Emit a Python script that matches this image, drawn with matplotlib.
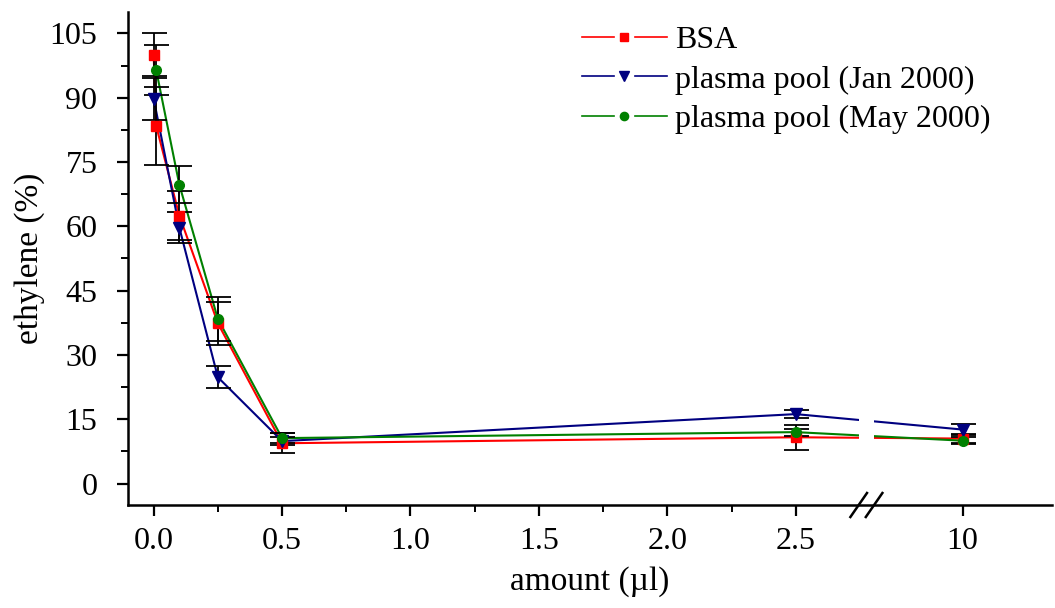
import numpy as np
import matplotlib
matplotlib.use("Agg")
import matplotlib.pyplot as plt
from matplotlib.lines import Line2D
from matplotlib.legend_handler import HandlerBase

# data
x_bsa = [0, 0.01, 0.1, 0.25, 0.5, 2.5, 10]
bsa = [100, 83.4, 62.5, 37.4, 9.4, 10.8, 10.5]
bsa_err = [5.0, 9.0, 5.7, 5.0, 2.3, 2.9, 1.0]

x_jan = [0, 0.1, 0.25, 0.5, 2.5, 10]
jan = [89.8, 59.7, 24.8, 9.9, 16.2, 12.6]
jan_err = [4.9, 3.6, 2.6, 1.0, 1.0, 1.2]

x_may = [0.01, 0.1, 0.25, 0.5, 2.5, 10]
may = [96.4, 69.7, 38.4, 10.6, 12.0, 10.0]
may_err = [5.8, 4.3, 5.1, 1.2, 0.8, 0.8]

xticks = [0, 0.5, 1.0, 1.5, 2.0, 2.5, 10]
xticklabels = ["0.0", "0.5", "1.0", "1.5", "2.0", "2.5", "10"]
yticks = [0, 15, 30, 45, 60, 75, 90, 105]

plt.rcParams['font.family'] = ['Liberation Serif', 'DejaVu Serif']

# broken x axis: linear up to B, compressed beyond
B = 2.775
K = 0.0518


def fwd(x):
    x = np.asarray(x, dtype=float)
    return np.where(x <= B, x, B + (x - B) * K)


def inv(t):
    t = np.asarray(t, dtype=float)
    return np.where(t <= B, t, B + (t - B) / K)


class GapHandler(HandlerBase):
    # origin style legend key: line, marker, line with gaps
    def create_artists(self, legend, orig, xdescent, ydescent, width, height,
                       fontsize, trans):
        y = height / 2 - ydescent
        x0 = -xdescent
        seg = width * 0.38
        arts = []
        for a, b in ((x0, x0 + seg), (x0 + width - seg, x0 + width)):
            ln = Line2D([a, b], [y, y], color=orig.get_color(),
                        lw=orig.get_linewidth())
            ln.set_transform(trans)
            arts.append(ln)
        mk = Line2D([x0 + width / 2], [y], ls='none', marker=orig.get_marker(),
                    ms=orig.get_markersize(), color=orig.get_color())
        mk.set_transform(trans)
        arts.append(mk)
        return arts


fig = plt.figure(figsize=(10.55, 6.08), dpi=100)
ax = fig.add_axes([0.1213, 0.1694, 0.8757, 0.8109])
ax.set_xscale('function', functions=(fwd, inv))
t_lo, t_hi = -0.1, 3.497
ax.set_xlim(float(inv(t_lo)), float(inv(t_hi)))
ax.set_ylim(-5, 110)

series = [
    (x_bsa, bsa, bsa_err, '#ff0000', 's', 7.5, 'BSA'),
    (x_jan, jan, jan_err, '#000080', 'v', 8.5, 'plasma pool (Jan 2000)'),
    (x_may, may, may_err, '#008000', 'o', 7, 'plasma pool (May 2000)'),
]

handles = []
lw = 1.5
for xs, ys, es, c, m, ms, lab in series:
    ax.plot(xs, ys, color=c, lw=lw, zorder=2)
    ax.errorbar(xs, ys, yerr=es, fmt='none', ecolor='black', elinewidth=1.3,
                capsize=9, capthick=1.3, zorder=2.3)
    ax.plot(xs, ys, ls='none', marker=m, ms=ms, color=c, zorder=3)
    handles.append(Line2D([], [], color=c, lw=lw * 0.8, marker=m,
                          ms=ms * 0.85, label=lab))

# white gap across the lines at the break
half = 0.03
ax.axvspan(float(inv(B - half)), float(inv(B + half)), ymin=0.03, ymax=1,
           color='white', zorder=2.4, lw=0)

# break marks on the x axis
span = t_hi - t_lo
for tc in (B - half, B + half):
    fc = (tc - t_lo) / span
    dx = 8.3 / 924
    dy = 12 / 493
    ax.plot([fc - dx, fc + dx], [-dy, dy], transform=ax.transAxes,
            color='black', lw=1.8, clip_on=False, zorder=6)

ax.set_xticks(xticks)
ax.set_xticklabels(xticklabels)
ax.set_xticks(np.arange(0.25, 2.5, 0.5), minor=True)
ax.set_yticks(yticks)
ax.set_yticks(np.arange(7.5, 105, 15), minor=True)

for s in ('top', 'right'):
    ax.spines[s].set_visible(False)
for s in ('left', 'bottom'):
    ax.spines[s].set_linewidth(1.8)
    ax.spines[s].set_zorder(5)

ax.tick_params(which='major', direction='out', length=8, width=1.6,
               labelsize=23)
ax.tick_params(axis='y', which='major', pad=14)
ax.tick_params(axis='x', which='major', pad=8)
ax.tick_params(which='minor', direction='out', length=5, width=1.4)

ax.set_xlabel("amount (µl)", fontsize=24, labelpad=7)
ax.set_ylabel("ethylene (%)", fontsize=24, labelpad=3)

ax.legend(handles=handles, loc='upper left',
          bbox_to_anchor=(582 / 1055, 1 - 26 / 608),
          bbox_transform=fig.transFigure, frameon=False, fontsize=23,
          handlelength=2.66, handletextpad=0.25, labelspacing=0.31,
          borderpad=0, borderaxespad=0, numpoints=1,
          handler_map={Line2D: GapHandler()})

fig.savefig("out.png", dpi=100)
